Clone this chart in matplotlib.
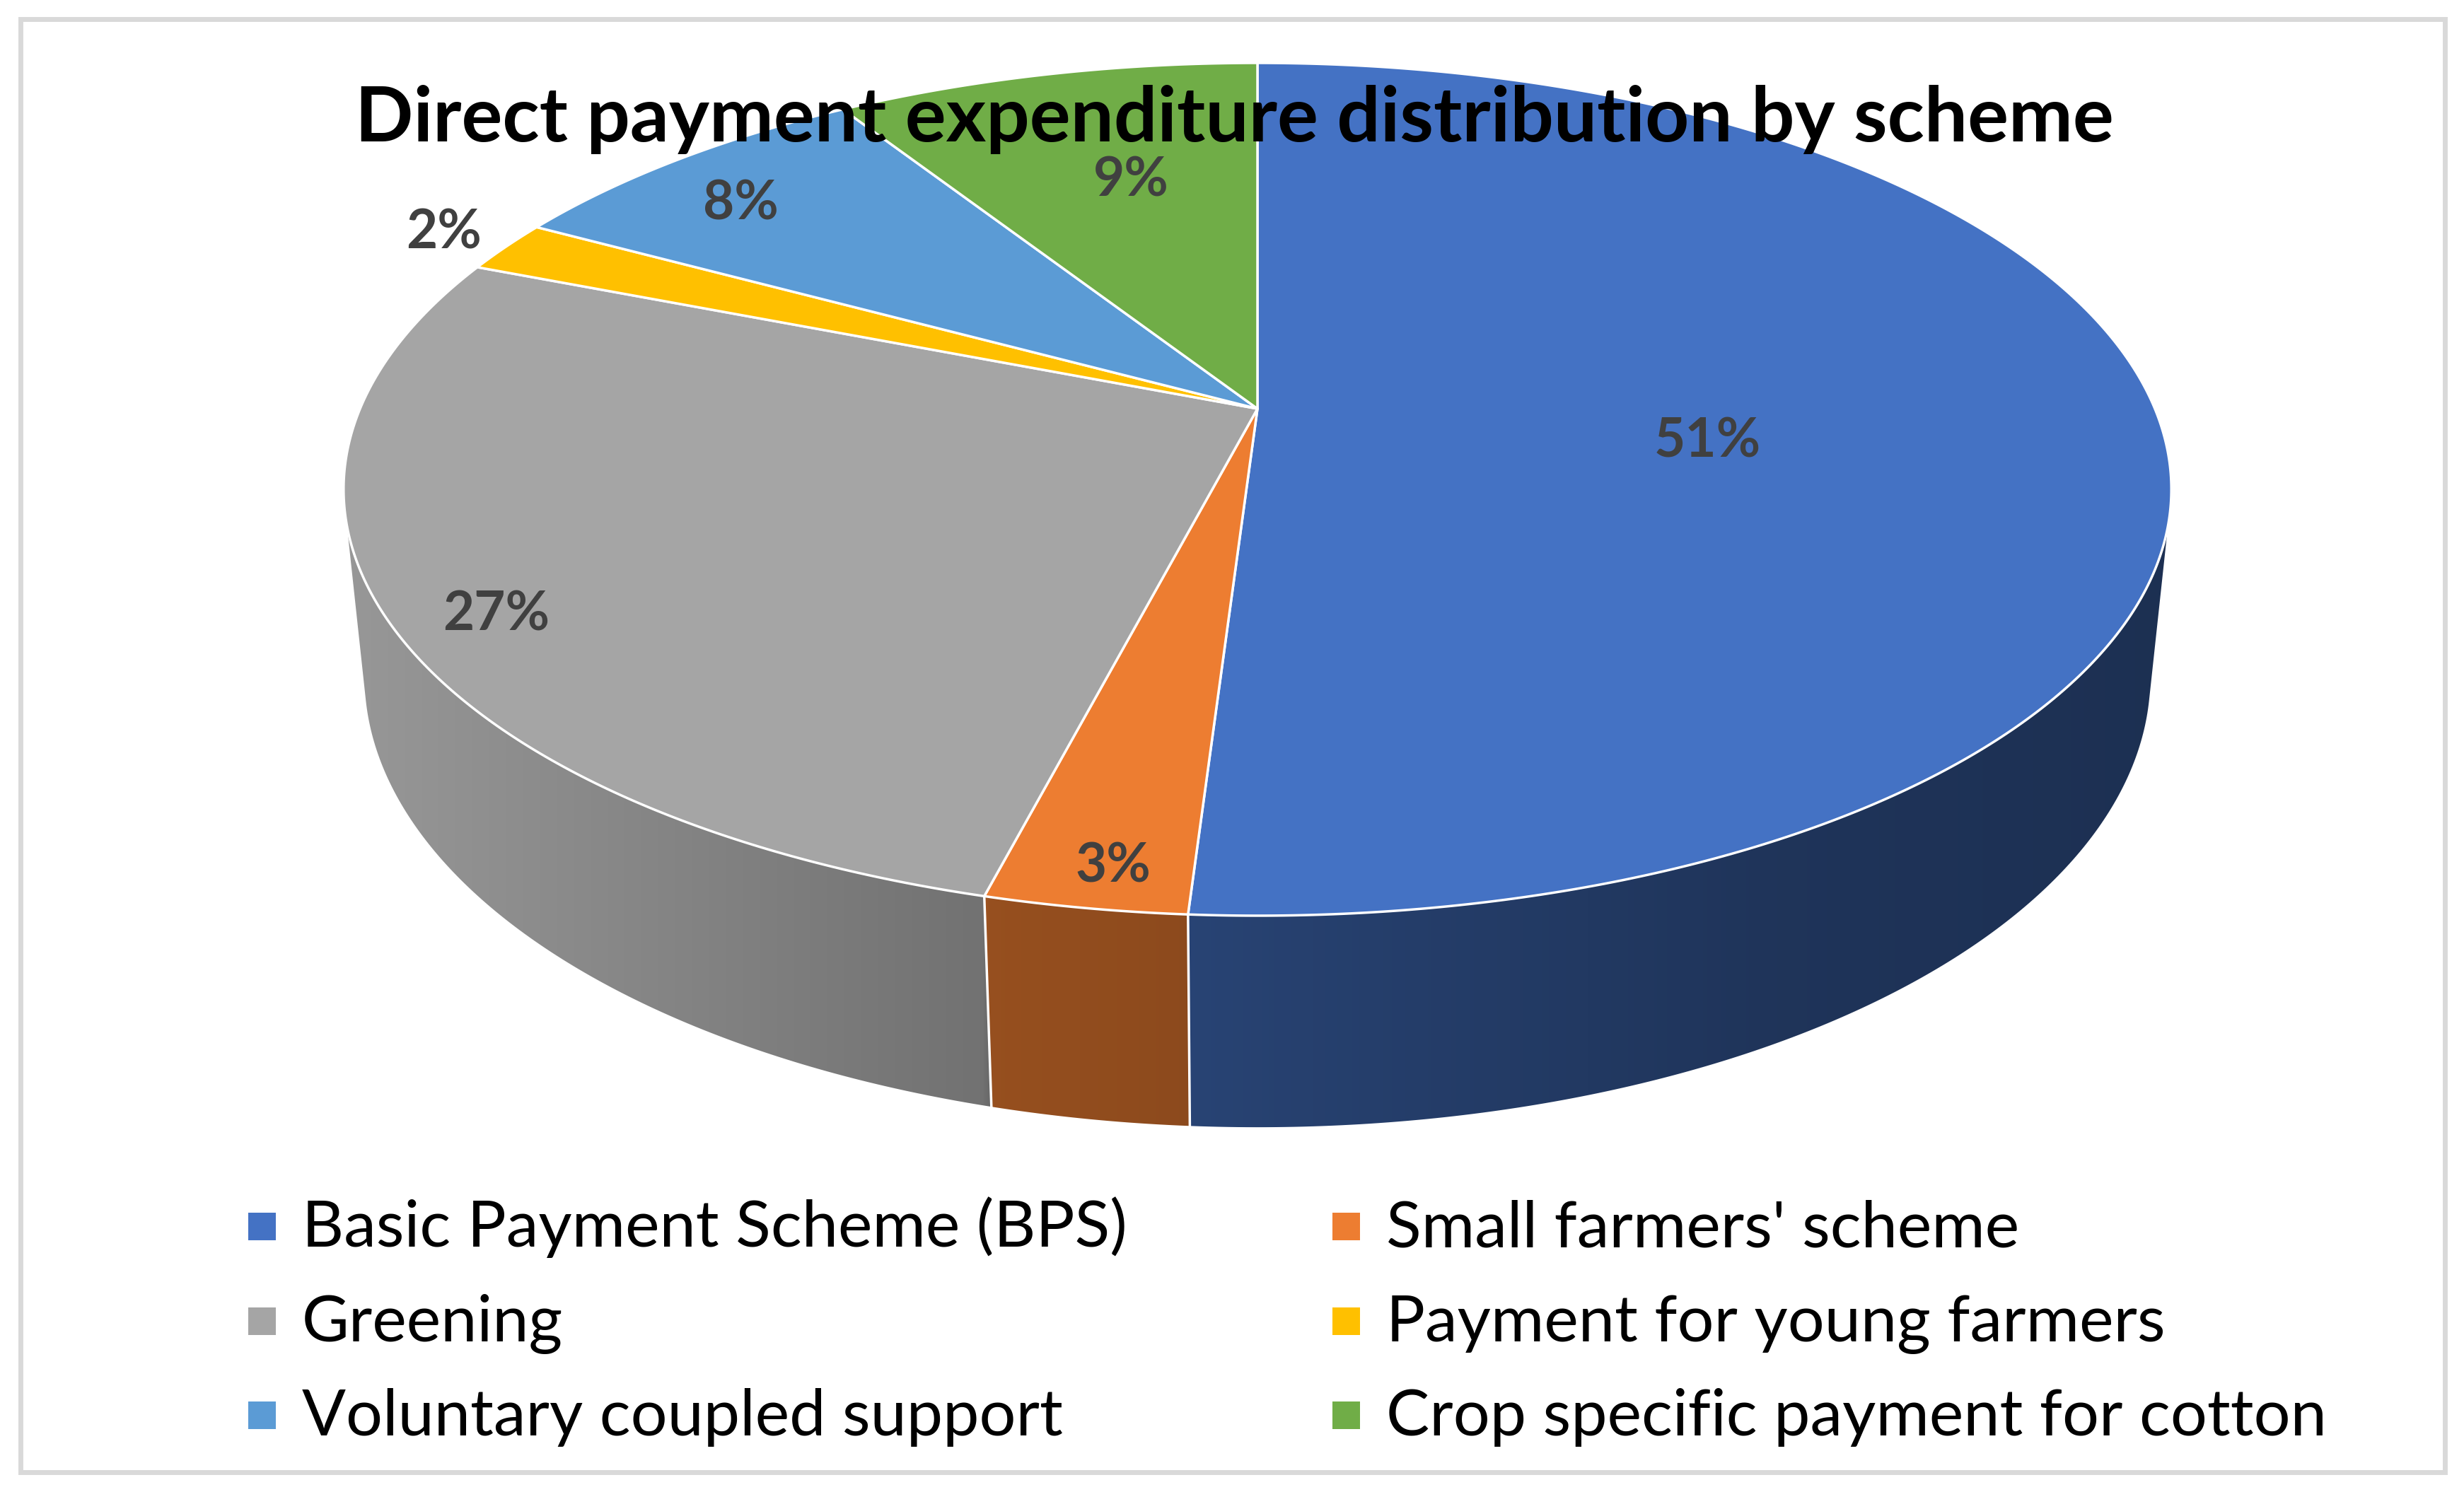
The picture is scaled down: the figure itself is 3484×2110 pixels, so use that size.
import numpy as np
import matplotlib
matplotlib.use("Agg")
import matplotlib.pyplot as plt
from matplotlib.patches import Polygon, Rectangle
from matplotlib.colors import to_rgb

# data
labels = ["Basic Payment Scheme (BPS)", "Small farmers' scheme", "Greening",
          "Payment for young farmers", "Voluntary coupled support",
          "Crop specific payment for cotton"]
shares = [51, 3, 27, 2, 8, 9]
pct_labels = ["51%", "3%", "27%", "2%", "8%", "9%"]
colors = ["#4472C4", "#ED7D31", "#A5A5A5", "#FFC000", "#5B9BD5", "#70AD47"]
title = "Direct payment expenditure distribution by scheme"

# canvas in pixels
W, H = 3484, 2110
fig = plt.figure(figsize=(W / 100, H / 100), dpi=100)
ax = fig.add_axes([0, 0, 1, 1])
ax.set_xlim(0, W)
ax.set_ylim(H, 0)
ax.axis("off")

# perspective camera for the 3D pie
cx, cy = 1778, 578
sin_e, cos_e = 0.4504, 0.8928
dist = 4.723
scale_x, scale_y = 5993, 6097
thick = 0.2305


def project(x, y, z):
    depth = cos_e * y - sin_e * z + dist
    return cx + scale_x * x / depth, cy - scale_y * (sin_e * y + cos_e * z) / depth


def arc(t0, t1, z, r=1.0):
    t = np.radians(np.linspace(t0, t1, max(int(abs(t1 - t0) * 2), 2)))
    X, Y = project(r * np.sin(t), r * np.cos(t), z)
    return np.column_stack([X, Y])


def shade(X):
    return np.interp(X, [480, 1390, 1400, 1700, 1800, 2500, 3070],
                     [0.92, 0.69, 0.635, 0.59, 0.57, 0.46, 0.42])


bounds = np.concatenate([[0], np.cumsum(shares)]) / np.sum(shares) * 360
vis0 = np.degrees(np.arccos(-1 / (dist * cos_e)))
vis1 = 360 - vis0

# side walls with horizontal gradient
for i, col in enumerate(colors):
    a0, a1 = max(bounds[i], vis0), min(bounds[i + 1], vis1)
    if a1 <= a0:
        continue
    top = arc(a0, a1, 0)
    bot = arc(a0, a1, -thick)[::-1]
    pts = np.vstack([top, bot])
    patch = Polygon(pts, closed=True, facecolor="none", edgecolor="white",
                    linewidth=1.2, zorder=2)
    ax.add_patch(patch)
    x0, x1 = pts[:, 0].min(), pts[:, 0].max()
    y0, y1 = pts[:, 1].min(), pts[:, 1].max()
    xs = np.linspace(x0, x1, 400)
    grad = np.clip(np.array(to_rgb(col))[None, :] * shade(xs)[:, None], 0, 1)
    im = ax.imshow(grad[None, :, :], extent=(x0, x1, y1, y0), aspect="auto",
                   interpolation="bilinear", zorder=1)
    im.set_clip_path(patch)

# white seams on the wall between slices
for b in bounds[1:-1]:
    if vis0 < b < vis1:
        xa, ya = project(np.sin(np.radians(b)), np.cos(np.radians(b)), 0)
        xb, yb = project(np.sin(np.radians(b)), np.cos(np.radians(b)), -thick)
        ax.plot([xa, xb], [ya, yb], color="white", linewidth=2.5, zorder=3)

ax.set_xlim(0, W)
ax.set_ylim(H, 0)

# top faces
apex = project(0, 0, 0)
for i, col in enumerate(colors):
    pts = np.vstack([[apex], arc(bounds[i], bounds[i + 1], 0)])
    ax.add_patch(Polygon(pts, closed=True, facecolor=col, edgecolor="white",
                         linewidth=2.5, joinstyle="round", zorder=4))

# data labels (radius and angle shift from slice middle)
label_r = [0.5, 0.93, 0.9, 1.09, 0.84, 0.64]
label_dt = [7.3, -0.8, -3.6, 0, -2.4, 2.0]
for i, txt in enumerate(pct_labels):
    mid = np.radians((bounds[i] + bounds[i + 1]) / 2 + label_dt[i])
    lx, ly = project(label_r[i] * np.sin(mid), label_r[i] * np.cos(mid), 0)
    ax.text(lx, ly, txt, ha="center", va="center", fontsize=55,
            fontweight="bold", color="#404040", family="Lato", zorder=6)

ax.text(1745, 200, title, ha="center", va="baseline", fontsize=78,
        fontweight="bold", color="black", family="Lato", zorder=7)

# legend
col_x = [351, 1884]
row_y = [1763, 1897, 2030]
for i, (lab, col) in enumerate(zip(labels, colors)):
    r, c = divmod(i, 2)
    ax.add_patch(Rectangle((col_x[c], row_y[r] - 48), 39, 39, facecolor=col,
                           edgecolor="none", zorder=5))
    ax.text(col_x[c] + 76, row_y[r], lab, ha="left", va="baseline",
            fontsize=66, color="black", family="Lato", zorder=5)

# chart border
ax.add_patch(Rectangle((29, 27), 3428, 2055, fill=False, edgecolor="#d9d9d9",
                       linewidth=5, zorder=8))

fig.savefig("out.png", dpi=100, facecolor="white")
